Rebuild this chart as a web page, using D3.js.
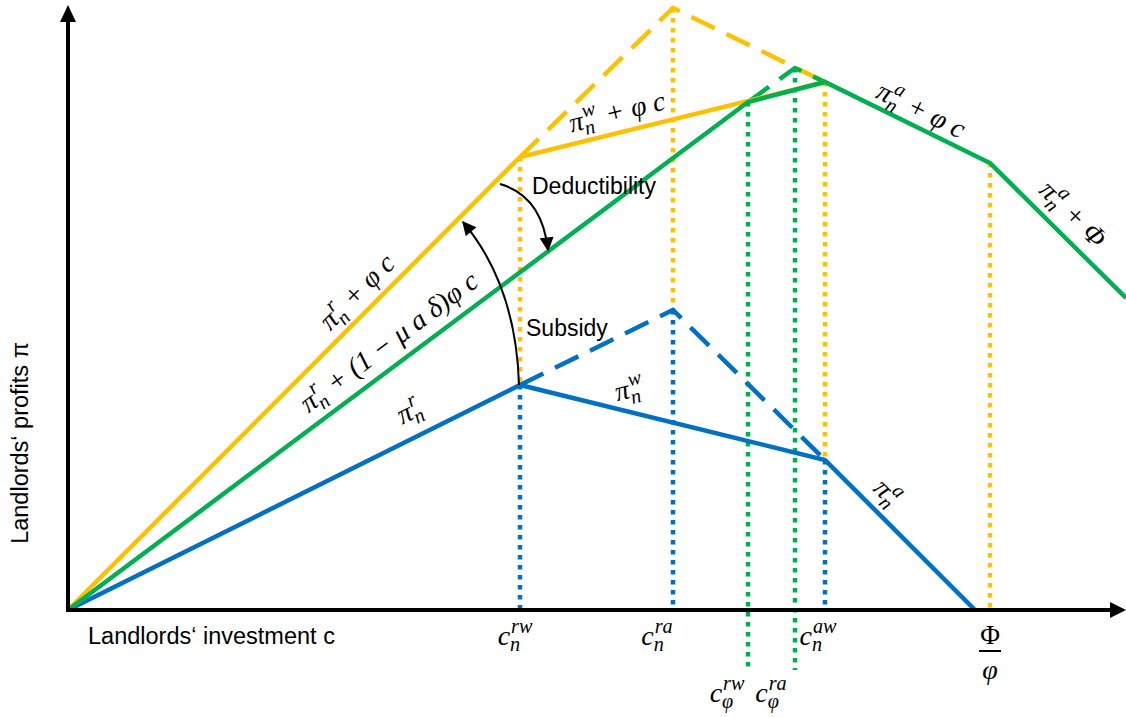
<!DOCTYPE html>
<html><head><meta charset="utf-8">
<script src="https://cdn.jsdelivr.net/npm/d3@7"></script>
<style>body{margin:0;background:#fff}svg{display:block}</style>
</head><body>
<svg id="chart" width="1126" height="717"></svg>
<script>
// ---- data (schematic units) ----
const cTicks = [
  {key:"rw_n", x:45.2}, {key:"ra_n", x:60.5}, {key:"rw_phi", x:68.0},
  {key:"ra_phi", x:72.7}, {key:"aw_n", x:75.7}, {key:"Phi", x:92.2}
];
const blueSolid   = [[0,0],[45.2,22.5],[75.7,15.0],[90.7,0]];
const blueDashed  = [[45.2,22.5],[60.5,30.0],[75.7,15.0]];
const yellowSolid = [[0,0],[45.2,45.3],[75.7,52.8]];
const yellowDashed= [[45.2,45.3],[60.5,60.2],[75.7,52.8]];
const greenSolid  = [[0,0],[68.0,50.8],[75.7,52.8],[92.2,44.7],[105.8,31.2]];
const greenDashed = [[68.0,50.8],[72.7,54.2],[75.7,52.8]];
const dottedSegs = [
  {x:45.2, y0:45.3, y1:22.5, c:"yellow"}, {x:45.2, y0:22.5, y1:0, c:"blue"},
  {x:60.5, y0:60.2, y1:30.0, c:"yellow"}, {x:60.5, y0:30.0, y1:0, c:"blue"},
  {x:68.0, y0:50.8, y1:-5.8, c:"green"},
  {x:72.7, y0:54.2, y1:-6.0, c:"green"},
  {x:75.7, y0:52.8, y1:15.0, c:"yellow"}, {x:75.7, y0:15.0, y1:0, c:"blue"},
  {x:92.2, y0:44.7, y1:0, c:"yellow"}
];
const colors = {yellow:"#FFC000", green:"#00B050", blue:"#0070C0"};

const svg = d3.select("#chart");
const x = d3.scaleLinear().domain([0,105.8]).range([68,1126]);
const y = d3.scaleLinear().domain([0,60]).range([610,10]);
const line = d3.line().x(d=>x(d[0])).y(d=>y(d[1]));

// markers
const defs = svg.append("defs");
defs.append("marker").attr("id","ah").attr("viewBox","0 0 10 10").attr("refX",9).attr("refY",5)
  .attr("markerWidth",15).attr("markerHeight",14).attr("markerUnits","userSpaceOnUse").attr("orient","auto")
  .append("path").attr("d","M0,0L10,5L0,10Z").attr("fill","#000");

// dotted verticals
svg.append("g").selectAll("line").data(dottedSegs).join("line")
  .attr("x1",d=>x(d.x)).attr("x2",d=>x(d.x)).attr("y1",d=>y(d.y0)).attr("y2",d=>y(d.y1))
  .attr("stroke",d=>colors[d.c]).attr("stroke-width",4.5).attr("stroke-dasharray","4.5,5.5");

// dashed
[[blueDashed,"blue"],[yellowDashed,"yellow"],[greenDashed,"green"]].forEach(([d,c])=>{
  svg.append("path").attr("d",line(d)).attr("fill","none").attr("stroke",colors[c])
    .attr("stroke-width",4.5).attr("stroke-dasharray","26,13");
});
// solid
[[blueSolid,"blue"],[yellowSolid,"yellow"],[greenSolid,"green"]].forEach(([d,c])=>{
  svg.append("path").attr("d",line(d)).attr("fill","none").attr("stroke",colors[c])
    .attr("stroke-width",4.5).attr("stroke-linejoin","miter");
});

// axes
svg.append("line").attr("x1",x(0)).attr("x2",x(0)).attr("y1",y(0)+2).attr("y2",20)
  .attr("stroke","#000").attr("stroke-width",4);
svg.append("path").attr("d",`M${x(0)-8},22L${x(0)},5L${x(0)+8},22Z`).attr("fill","#000");
svg.append("line").attr("x1",x(0)-2).attr("x2",1112).attr("y1",y(0)).attr("y2",y(0))
  .attr("stroke","#000").attr("stroke-width",4);
svg.append("path").attr("d",`M1110,${y(0)-8}L1126,${y(0)}L1110,${y(0)+8}Z`).attr("fill","#000");

// axis titles
const sans = "'Liberation Sans', Arial, sans-serif";
svg.append("text").attr("x",88).attr("y",644).attr("font-family",sans).attr("font-size",23.5)
  .text("Landlords‘ investment c");
svg.append("text").attr("transform","translate(28,443) rotate(-90)").attr("text-anchor","middle")
  .attr("font-family",sans).attr("font-size",23.5).text("Landlords‘ profits π");

// math label helper: one text element with tspans
const serif = "'Liberation Serif', 'Times New Roman', serif";
function math(cx, cy, angle, tokens, size){
  const g = svg.append("g").attr("transform",`translate(${cx},${cy}) rotate(${angle})`);
  const txt = g.append("text").attr("font-family",serif).attr("font-style","italic").attr("font-size",size);
  let pos = 0;
  const base = size*0.32;
  const spans = [];
  tokens.forEach(tk=>{
    if (typeof tk === "string"){
      const t = txt.append("tspan").attr("x",pos).attr("y",base).text(tk);
      spans.push(t);
      pos += t.node().getComputedTextLength();
    } else {
      let w = 0;
      if (tk.sup){ const t=txt.append("tspan").attr("x",pos+1).attr("y",base-size*0.42).attr("font-size",size*0.72).text(tk.sup); spans.push(t); w=Math.max(w,t.node().getComputedTextLength()+1); }
      if (tk.sub){ const t=txt.append("tspan").attr("x",pos).attr("y",base+size*0.22).attr("font-size",size*0.72).text(tk.sub); spans.push(t); w=Math.max(w,t.node().getComputedTextLength()); }
      pos += w + 2;
    }
  });
  spans.forEach(s=>s.attr("x", +s.attr("x") - pos/2));
  return g;
}

// line labels
const LS = 28;
math(357,292,-45,["π",{sub:"n",sup:"r"}," + φ c"],LS);
math(389,342,-36.8,["π",{sub:"n",sup:"r"}," + (1 − μ a δ)φ c"],LS);
math(410,411,-26.5,["π",{sub:"n",sup:"r"}],LS);
math(617,112,-13.8,["π",{sub:"n",sup:"w"}," + φ c"],LS);
math(630,389,-13.8,["π",{sub:"n",sup:"w"}],LS);
math(921,110,26,["π",{sub:"n",sup:"a"}," + φ c"],LS);
math(1073,214,44.8,["π",{sub:"n",sup:"a"}," + Φ"],LS);
math(888,493,45,["π",{sub:"n",sup:"a"}],LS);

// tick labels
const tickLab = {
  rw_n:  {dx:-4,  y:636, sub:"n", sup:"rw"},
  ra_n:  {dx:-15, y:636, sub:"n", sup:"ra"},
  aw_n:  {dx:-6,  y:636, sub:"n", sup:"aw"},
  rw_phi:{dx:-20, y:693, sub:"φ", sup:"rw"},
  ra_phi:{dx:-23, y:693, sub:"φ", sup:"ra"}
};
cTicks.forEach(t=>{
  const L = tickLab[t.key];
  if (L) math(x(t.x)+L.dx, L.y, 0, ["c",{sub:L.sub,sup:L.sup}],28);
});
// Phi/phi fraction
const fx = x(cTicks.find(d=>d.key==="Phi").x);
svg.append("text").attr("x",fx).attr("y",644).attr("text-anchor","middle").attr("font-family",serif)
  .attr("font-size",27).text("Φ");
svg.append("line").attr("x1",fx-11).attr("x2",fx+11).attr("y1",651).attr("y2",651).attr("stroke","#000").attr("stroke-width",2);
svg.append("text").attr("x",fx).attr("y",679).attr("text-anchor","middle").attr("font-family",serif)
  .attr("font-style","italic").attr("font-size",28).text("φ");

// annotations
svg.append("text").attr("x",532).attr("y",194).attr("font-family",sans).attr("font-size",23).text("Deductibility");
svg.append("text").attr("x",526).attr("y",336).attr("font-family",sans).attr("font-size",23).text("Subsidy");
svg.append("path").attr("d","M500,184 Q542,196 548,250").attr("fill","none").attr("stroke","#000")
  .attr("stroke-width",2).attr("marker-end","url(#ah)");
svg.append("path").attr("d","M519,385 Q516,285 463,222").attr("fill","none").attr("stroke","#000")
  .attr("stroke-width",2).attr("marker-end","url(#ah)");
</script>
</body></html>
